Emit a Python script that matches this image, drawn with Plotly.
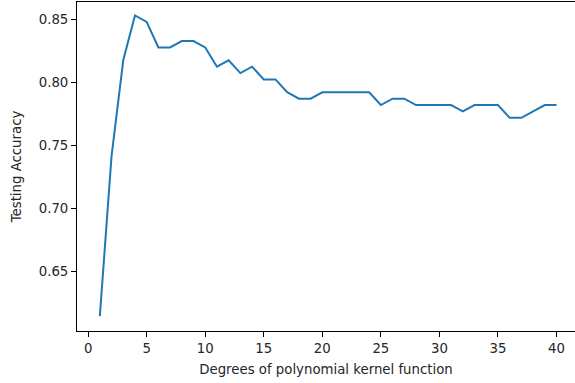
import plotly.graph_objects as go

degrees = list(range(1, 41))
# accuracy values (test set of 197 samples)
correct = [121, 146, 161, 168, 167, 163, 163, 164, 164, 163,
           160, 161, 159, 160, 158, 158, 156, 155, 155, 156,
           156, 156, 156, 156, 154, 155, 155, 154, 154, 154,
           154, 153, 154, 154, 154, 152, 152, 153, 154, 154]
n_test = 197
accuracy = [c / n_test for c in correct]

x_ticks = [0, 5, 10, 15, 20, 25, 30, 35, 40]
y_ticks = [0.65, 0.70, 0.75, 0.80, 0.85]
y_tick_labels = ["0.65", "0.70", "0.75", "0.80", "0.85"]

font = dict(family="DejaVu Sans", size=13.3, color="#262626")

fig = go.Figure(go.Scatter(
    x=degrees, y=accuracy, mode="lines",
    line=dict(color="#1f77b4", width=2),
))

fig.update_layout(
    width=575, height=383,
    margin=dict(l=77, r=0, t=2, b=52, autoexpand=False),
    paper_bgcolor="white", plot_bgcolor="white",
    showlegend=False, font=font,
)
fig.update_xaxes(
    range=[-0.95, 41.58], tickvals=x_ticks,
    showgrid=False, zeroline=False, automargin=False,
    showline=True, linecolor="#000", linewidth=1, mirror=True,
    ticks="outside", ticklen=5, tickcolor="#000", tickwidth=1,
    tickfont=font,
    title=dict(text="Degrees of polynomial kernel function", font=font, standoff=9),
)
fig.update_yaxes(
    range=[0.6024, 0.8635], tickvals=y_ticks, ticktext=y_tick_labels,
    showgrid=False, zeroline=False, automargin=False,
    showline=True, linecolor="#000", linewidth=1, mirror=False,
    ticks="outside", ticklen=5, tickcolor="#000", tickwidth=1,
    tickfont=font,
    title=dict(text="Testing Accuracy", font=font, standoff=14),
)

fig.write_html(
    "out.html",
    config={"displayModeBar": False},
    post_script="document.body.style.margin='0';document.body.style.overflow='hidden';",
)
